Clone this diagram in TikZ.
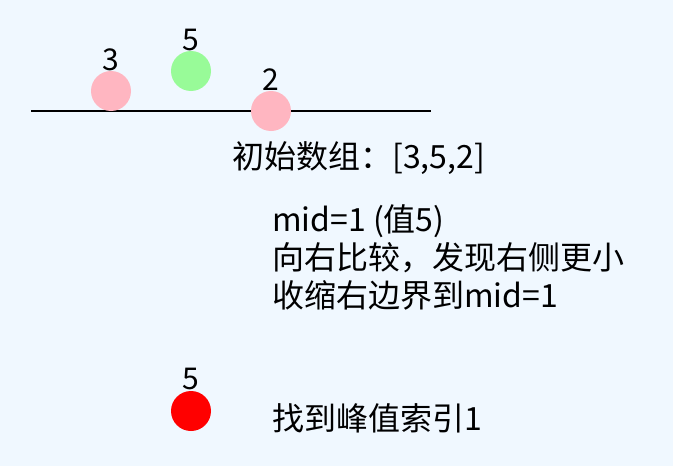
\documentclass[tikz,border=0pt]{standalone}
\usepackage{fontspec}
\setmainfont{Noto Sans CJK SC}
\definecolor{bgc}{HTML}{F0F8FF}
\definecolor{pinkc}{HTML}{FFB6C1}
\definecolor{greenc}{HTML}{98FB98}
\definecolor{redc}{HTML}{FF0000}
\begin{document}
\begin{tikzpicture}[x=1pt,y=-1pt,
  ball/.style={circle,inner sep=0pt,minimum size=40pt},
  num/.style={anchor=base,inner sep=0pt,font=\fontsize{30}{36}\selectfont},
  txt/.style={anchor=base west,inner sep=0pt,font=\fontsize{32}{36}\selectfont}]
\fill[bgc] (0,0) rectangle (673,466);
\useasboundingbox (0,0) rectangle (673,466);
\coordinate (a) at (31,110.5);
\coordinate (b) at (431,110.5);
\draw[line width=2pt] (a) -- (b);
\node[ball,fill=pinkc] (c1) at (111,91) {};
\node[ball,fill=greenc] (c2) at (191,71) {};
\node[ball,fill=pinkc] (c3) at (271,111) {};
\node[num] (n1) at (111,70) {3};
\node[num] (n2) at (191,50) {5};
\node[num] (n3) at (271,90) {2};
\node[txt] (t0) at (232,168) {初始数组：[3,5,2]};
\node[txt] (t1) at (272,231) {mid=1 (值5)};
\node[txt] (t2) at (272,269) {向右比较，发现右侧更小};
\node[txt] (t3) at (272,307) {收缩右边界到mid=1};
\node[ball,fill=redc] (c4) at (191,411) {};
\node[num] (n4) at (191,389) {5};
\node[txt] (t4) at (272,430) {找到峰值索引1};
\end{tikzpicture}
\end{document}
